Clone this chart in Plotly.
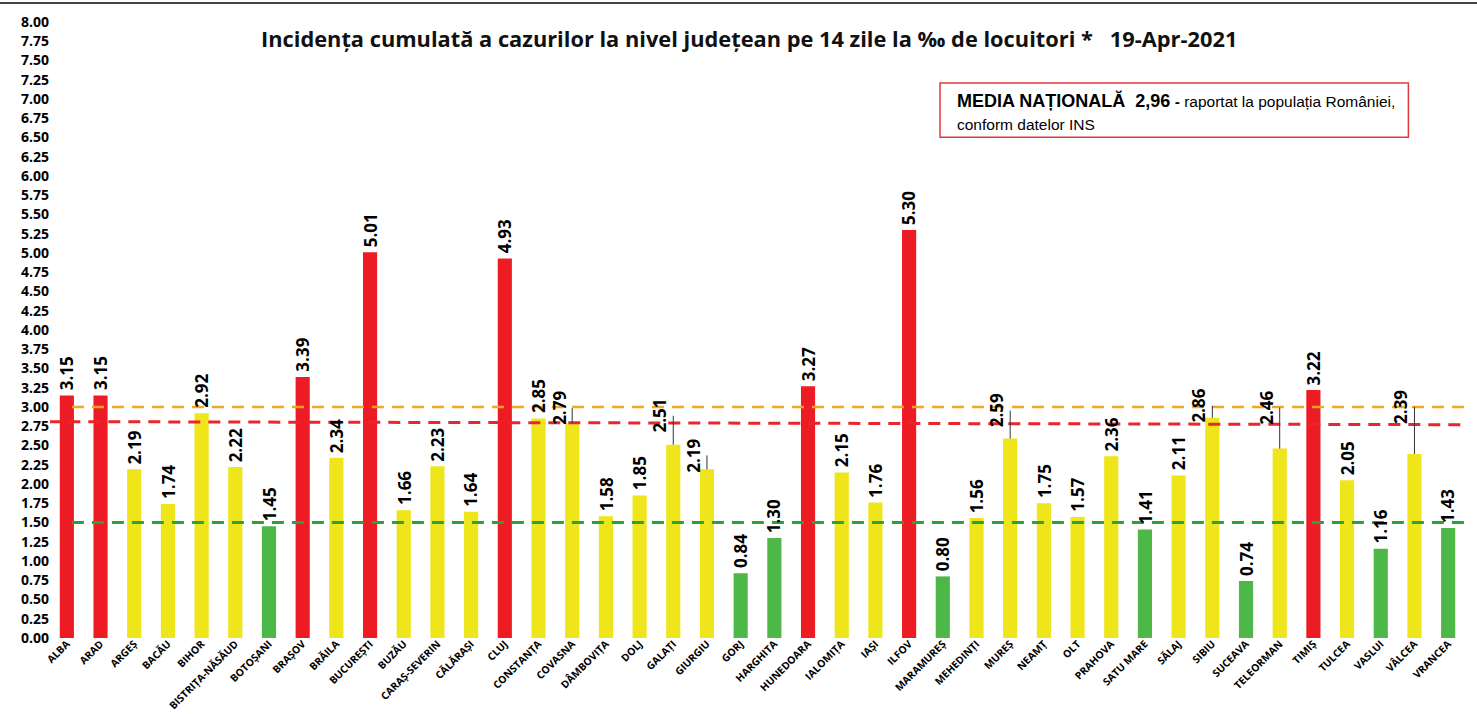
import plotly.graph_objects as go

counties = ["ALBA", "ARAD", "ARGEȘ", "BACĂU", "BIHOR", "BISTRIȚA-NĂSĂUD", "BOTOȘANI",
            "BRAȘOV", "BRĂILA", "BUCUREȘTI", "BUZĂU", "CARAȘ-SEVERIN", "CĂLĂRAȘI", "CLUJ",
            "CONSTANȚA", "COVASNA", "DÂMBOVIȚA", "DOLJ", "GALAȚI", "GIURGIU", "GORJ",
            "HARGHITA", "HUNEDOARA", "IALOMIȚA", "IAȘI", "ILFOV", "MARAMUREȘ", "MEHEDINȚI",
            "MUREȘ", "NEAMȚ", "OLT", "PRAHOVA", "SATU MARE", "SĂLAJ", "SIBIU", "SUCEAVA",
            "TELEORMAN", "TIMIȘ", "TULCEA", "VASLUI", "VÂLCEA", "VRANCEA"]
incidence = [3.15, 3.15, 2.19, 1.74, 2.92, 2.22, 1.45,
             3.39, 2.34, 5.01, 1.66, 2.23, 1.64, 4.93,
             2.85, 2.79, 1.58, 1.85, 2.51, 2.19, 0.84,
             1.30, 3.27, 2.15, 1.76, 5.30, 0.80, 1.56,
             2.59, 1.75, 1.57, 2.36, 1.41, 2.11, 2.86, 0.74,
             2.46, 3.22, 2.05, 1.16, 2.39, 1.43]
national_mean_label = "2,96"
threshold_high = 3.0
threshold_low = 1.5
red_line_left = 2.81
red_line_right = 2.77
y_ticks = [i * 0.25 for i in range(33)]
title_text = "Incidența cumulată a cazurilor la nivel județean pe 14 zile la ‰ de locuitori *   19-Apr-2021"
note_line1_bold = f"MEDIA NAȚIONALĂ  {national_mean_label}"
note_line1_rest = " raportat la populația României,"
note_line2 = "conform datelor INS"

# leader-line lengths (px) for labels moved above the reference lines
leader = {"COVASNA": 15, "GALAȚI": 29, "GIURGIU": 14, "MUREȘ": 28, "SIBIU": 12,
          "TELEORMAN": 41, "VÂLCEA": 47}

RED = "#ED1C24"
YEL = "#EEE51A"
GRN = "#4DB848"


def col(v):
    if v > threshold_high:
        return RED
    if v < threshold_low:
        return GRN
    return YEL


colors = [col(v) for v in incidence]

fig = go.Figure()
fig.add_trace(go.Bar(x=counties, y=incidence, marker=dict(color=colors, line=dict(width=0)),
                     width=0.42, hoverinfo="x+y"))

FONT = "Open Sans"
LBL = dict(family=FONT, size=17, color="black", weight="bold")
annotations = []
for c, v in zip(counties, incidence):
    txt = f"{v:.2f}"
    if c in leader:
        annotations.append(dict(x=c, y=v, text=txt, textangle=-90, showarrow=True,
                                arrowhead=0, arrowwidth=1, arrowcolor="#333", ax=0,
                                ay=-leader[c], xanchor="center", yanchor="bottom",
                                standoff=0, font=LBL))
    else:
        annotations.append(dict(x=c, y=v, text=txt, textangle=-90, showarrow=False,
                                xanchor="center", yanchor="bottom", yshift=3, font=LBL))

annotations.append(dict(xref="paper", yref="paper", x=0.494, y=0.974, xanchor="center",
                        yanchor="middle", showarrow=False, text=f"<b>{title_text}</b>",
                        font=dict(family=FONT, size=21.8, color="#111")))

annotations.append(dict(xref="paper", yref="paper", x=0.6395, y=0.873, xanchor="left",
                        yanchor="middle", align="left", showarrow=False,
                        text=(f"<span style='font-size:18px'><b>{note_line1_bold}</b></span>"
                              f" <b>-</b>{note_line1_rest}"),
                        font=dict(family="Liberation Sans", size=15.5, color="black")))
annotations.append(dict(xref="paper", yref="paper", x=0.6395, y=0.834, xanchor="left",
                        yanchor="middle", align="left", showarrow=False, text=note_line2,
                        font=dict(family="Liberation Sans", size=15.5, color="black")))

shapes = [
    dict(type="line", xref="x", yref="y", x0=0.15, x1=41.5, y0=threshold_high, y1=threshold_high,
         line=dict(color="#F5A623", width=2.5, dash="12px,8px"), layer="above"),
    dict(type="line", xref="x", yref="y", x0=-0.55, x1=41.5, y0=red_line_left, y1=red_line_right,
         line=dict(color="#E8262B", width=3, dash="12px,8px"), layer="above"),
    dict(type="line", xref="x", yref="y", x0=0.15, x1=41.5, y0=threshold_low, y1=threshold_low,
         line=dict(color="#2CA13A", width=3, dash="12px,8px"), layer="above"),
    dict(type="rect", xref="paper", yref="paper", x0=0.629, x1=0.960, y0=0.813, y1=0.901,
         line=dict(color="#E03A3E", width=1.5), fillcolor="rgba(0,0,0,0)"),
    dict(type="line", xref="paper", yref="paper", x0=-0.04, x1=1.01, y0=1.031, y1=1.031,
         line=dict(color="#444", width=2)),
]

fig.update_layout(
    width=1477, height=714,
    margin=dict(l=50, r=12, t=22, b=76),
    paper_bgcolor="white", plot_bgcolor="white",
    showlegend=False, bargap=0.5,
    annotations=annotations, shapes=shapes,
    xaxis=dict(tickangle=-45, tickfont=dict(family=FONT, size=10.3, color="black", weight="bold"),
               showgrid=False, showline=False, ticks="", range=[-0.5, 41.5], fixedrange=True,
               automargin=False, ticklabelstandoff=-3),
    yaxis=dict(range=[0, 8], tickvals=y_ticks, tickformat=".2f", showgrid=False, zeroline=False,
               showline=False, ticks="", automargin=False,
               tickfont=dict(family=FONT, size=14, color="black", weight="bold")),
)

fig.write_html("out.html", config={"displayModeBar": False},
               post_script="document.body.style.margin='0px';")
